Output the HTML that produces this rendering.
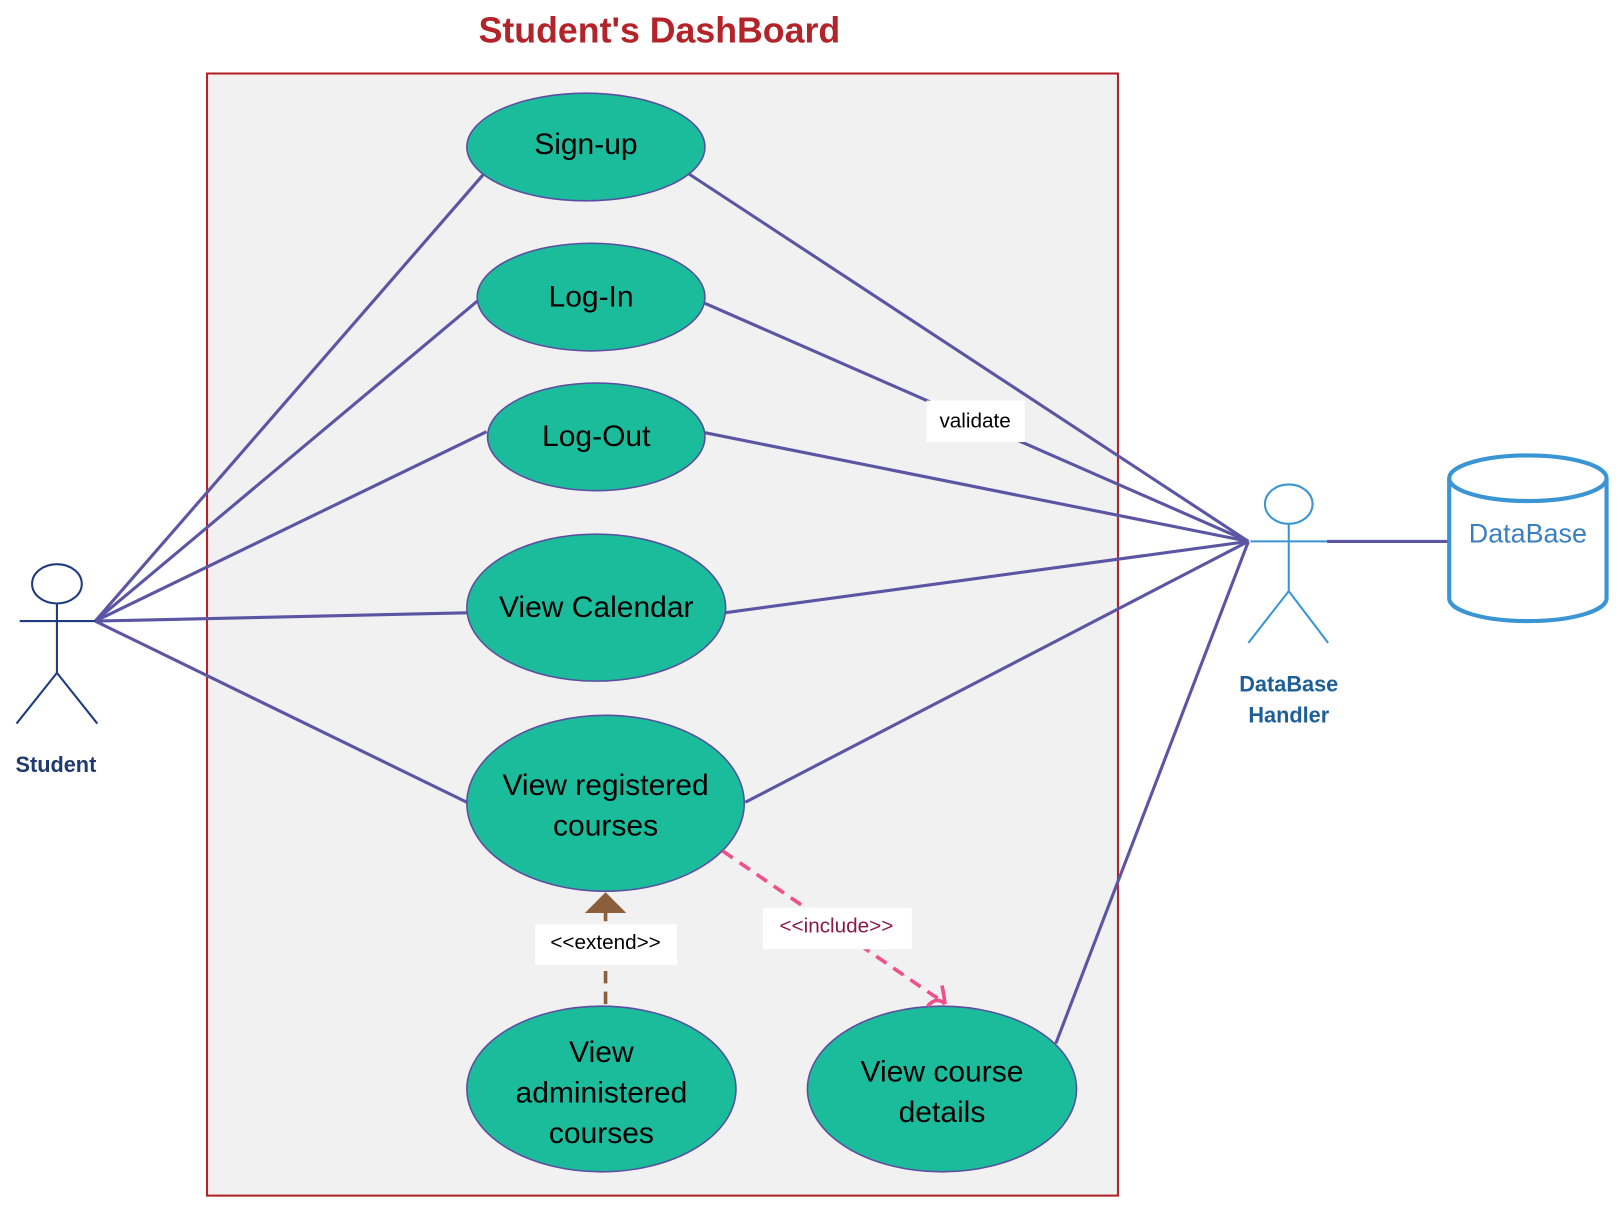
<!DOCTYPE html>
<html><head><meta charset="utf-8"><style>html,body{margin:0;padding:0;background:#fff}svg{display:block}</style></head>
<body>
<svg width="1620" height="1207" viewBox="0 0 1565 1166" xmlns="http://www.w3.org/2000/svg" font-family="Liberation Sans, Arial, sans-serif">
<rect x="0" y="0" width="1565" height="1166" fill="#fff"/>
<text x="637" y="41" text-anchor="middle" font-size="34.5" font-weight="bold" fill="#b3232a">Student's DashBoard</text>
<rect x="200" y="71" width="880" height="1084" fill="#f1f1f1" stroke="#b3232a" stroke-width="2"/>
<g stroke="#5b55a3" stroke-width="3" fill="none">
<line x1="92" y1="600" x2="470" y2="165"/>
<line x1="92" y1="600" x2="461" y2="291"/>
<line x1="92" y1="600" x2="470" y2="417"/>
<line x1="92" y1="600" x2="451" y2="592"/>
<line x1="92" y1="600" x2="451" y2="775"/>
<line x1="664" y1="167" x2="1206" y2="523"/>
<line x1="681" y1="293" x2="1206" y2="523"/>
<line x1="681" y1="418" x2="1206" y2="523"/>
<line x1="700" y1="592" x2="1206" y2="523"/>
<line x1="720" y1="775" x2="1206" y2="523"/>
<line x1="1020" y1="1008" x2="1206" y2="523"/>
<line x1="1282" y1="523" x2="1400" y2="523"/>
</g>
<rect x="895" y="387" width="95" height="40" fill="#fff"/>
<text x="942" y="413" text-anchor="middle" font-size="20" fill="#000">validate</text>
<g fill="#1abc9c" stroke="#5b4ea0" stroke-width="1.5">
<ellipse cx="566" cy="142" rx="115" ry="52"/>
<ellipse cx="571" cy="287" rx="110" ry="52"/>
<ellipse cx="576" cy="422" rx="105" ry="52"/>
<ellipse cx="576" cy="587" rx="125" ry="71"/>
<ellipse cx="585" cy="776" rx="134" ry="85"/>
<ellipse cx="581" cy="1052" rx="130" ry="80"/>
<ellipse cx="910" cy="1052" rx="130" ry="80"/>
</g>
<g font-size="29" fill="#000" text-anchor="middle">
<text x="566" y="149">Sign-up</text>
<text x="571" y="296">Log-In</text>
<text x="576" y="431">Log-Out</text>
<text x="576" y="596">View Calendar</text>
<text x="585" y="768">View registered</text>
<text x="585" y="807">courses</text>
<text x="581" y="1026">View</text>
<text x="581" y="1065">administered</text>
<text x="581" y="1104">courses</text>
<text x="910" y="1045">View course</text>
<text x="910" y="1084">details</text>
</g>
<line x1="698" y1="822" x2="908" y2="966" stroke="#f0508a" stroke-width="3.5" stroke-dasharray="12,8"/>
<path d="M896 972 Q905 962 913 970 M910 952 Q912 962 913 970" stroke="#f0508a" stroke-width="3.5" fill="none"/>
<rect x="737" y="877" width="144" height="40" fill="#fff"/>
<text x="808" y="901" text-anchor="middle" font-size="20" fill="#8b1a4a">&lt;&lt;include&gt;&gt;</text>
<line x1="585" y1="970" x2="585" y2="880" stroke="#8b5e3c" stroke-width="3.5" stroke-dasharray="12,8"/>
<polygon points="585,862 565,882 605,882" fill="#8b5e3c"/>
<rect x="517" y="893" width="137" height="39" fill="#fff"/>
<text x="585" y="917" text-anchor="middle" font-size="20" fill="#000">&lt;&lt;extend&gt;&gt;</text>
<g stroke="#1f3a7e" stroke-width="2" fill="none">
<ellipse cx="55" cy="564" rx="24" ry="19"/>
<line x1="55" y1="583" x2="55" y2="650"/>
<line x1="19" y1="600" x2="92" y2="600"/>
<line x1="55" y1="650" x2="16" y2="699"/>
<line x1="55" y1="650" x2="94" y2="699"/>
</g>
<text x="54" y="746" text-anchor="middle" font-size="21" font-weight="bold" fill="#1f3a6e">Student</text>
<g stroke="#3a95d5" stroke-width="2" fill="none">
<ellipse cx="1245" cy="487" rx="23" ry="19"/>
<line x1="1245" y1="506" x2="1245" y2="571"/>
<line x1="1208" y1="523" x2="1282" y2="523"/>
<line x1="1245" y1="571" x2="1206" y2="621"/>
<line x1="1245" y1="571" x2="1283" y2="621"/>
</g>
<text x="1245" y="668" text-anchor="middle" font-size="21" font-weight="bold" fill="#1f5f99">DataBase</text>
<text x="1245" y="698" text-anchor="middle" font-size="21" font-weight="bold" fill="#1f5f99">Handler</text>
<g stroke="#3a95d5" stroke-width="4" fill="#fff">
<path d="M1400 462 L1400 578 A76 22 0 0 0 1552 578 L1552 462"/>
<ellipse cx="1476" cy="462" rx="76" ry="22"/>
</g>
<text x="1476" y="524" text-anchor="middle" font-size="26" fill="#3a7fbf">DataBase</text>
</svg>
</body></html>
